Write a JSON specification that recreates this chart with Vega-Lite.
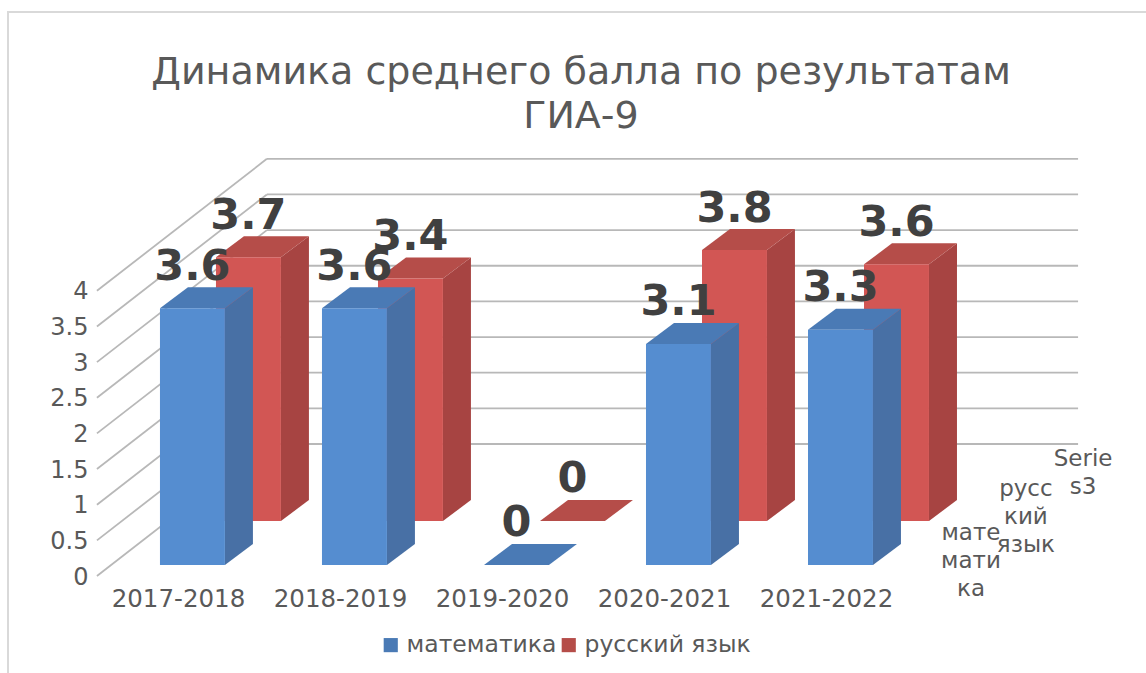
{
"$schema":"https://vega.github.io/schema/vega-lite/v6.json",
"width":1148,"height":680,
"autosize":{"type":"none"},
"padding":{"left":8,"top":12,"right":0,"bottom":0},
"background":"white",
"title":{"text":["Динамика среднего балла по результатам","ГИА-9"],"font":"DejaVu Sans","fontSize":38,"fontWeight":"normal","color":"#595959","lineHeight":44,"anchor":"middle","frame":"group","offset":-124,"dx":-1},
"config":{"view":{"stroke":"#d9d9d9","strokeWidth":2},"font":"DejaVu Sans"},
"datasets":{
"bars":[
{"year":"2017-2018","series":"математика","value":3.6},
{"year":"2018-2019","series":"математика","value":3.6},
{"year":"2019-2020","series":"математика","value":0},
{"year":"2020-2021","series":"математика","value":3.1},
{"year":"2021-2022","series":"математика","value":3.3},
{"year":"2017-2018","series":"русский язык","value":3.7},
{"year":"2018-2019","series":"русский язык","value":3.4},
{"year":"2019-2020","series":"русский язык","value":0},
{"year":"2020-2021","series":"русский язык","value":3.8},
{"year":"2021-2022","series":"русский язык","value":3.6}
],
"levels":[{"level":0},{"level":0.5},{"level":1},{"level":1.5},{"level":2},{"level":2.5},{"level":3},{"level":3.5},{"level":4}],
"depth":[{"series":"математика","wrapped":"мате\nмати\nка"},{"series":"русский язык","wrapped":"русс\nкий\nязык"},{"series":"Series3","wrapped":"Serie\ns3"}]
},
"encoding":{
"x":{"field":"X","type":"quantitative","title":null,"scale":{"domain":[-0.938,6.148],"nice":false,"zero":false},
"axis":{"values":[0,1,2,3,4],"labelExpr":"['2017-2018','2018-2019','2019-2020','2020-2021','2021-2022'][datum.value]","domain":false,"ticks":false,"grid":false,"offset":-105,"labelPadding":0,"labelOffset":18,"labelFontSize":24.5,"labelColor":"#595959","labelFont":"DejaVu Sans","labelBaseline":"top","labelAngle":0,"labelFlush":false,"labelOverlap":false}},
"y":{"field":"Y","type":"quantitative","title":null,"scale":{"domain":[-1.781,7.756],"nice":false,"zero":false},
"axis":{"values":[0,0.5,1,1.5,2,2.5,3,3.5,4],"format":".1~f","domain":false,"ticks":false,"grid":false,"offset":-80,"labelPadding":0,"labelOffset":12,"labelFontSize":24,"labelColor":"#595959","labelFont":"DejaVu Sans","labelOverlap":false,"labelFlush":false}}
},
"layer":[
{"data":{"name":"levels"},
 "transform":[{"calculate":"0.66","as":"X"},{"calculate":"5.667","as":"X2"},{"calculate":"datum.level+1.697","as":"Y"},{"calculate":"datum.level+1.697","as":"Y2"}],
 "mark":{"type":"rule","color":"#b8b8b8","strokeWidth":1.8},
 "encoding":{"x2":{"field":"X2"},"y2":{"field":"Y2"}}},
{"data":{"name":"levels"},
 "transform":[{"calculate":"-0.389","as":"X"},{"calculate":"0.66","as":"X2"},{"calculate":"datum.level-0.154","as":"Y"},{"calculate":"datum.level+1.697","as":"Y2"}],
 "mark":{"type":"rule","color":"#b8b8b8","strokeWidth":1.8},
 "encoding":{"x2":{"field":"X2"},"y2":{"field":"Y2"}}},
{"data":{"name":"depth"},
 "transform":[{"calculate":"indexof(['математика','русский язык','Series3'],datum.series)","as":"d"},{"calculate":"[5.006,5.345,5.698][datum.d]","as":"X"},{"calculate":"[0.449,1.066,1.487][datum.d]","as":"Y"}],
 "mark":{"type":"text","fontSize":23,"color":"#595959","align":"center","baseline":"middle","lineBreak":"\n","lineHeight":28},
 "encoding":{"text":{"field":"wrapped"}}},
{"data":{"name":"bars"},
 "transform":[
  {"filter":"datum.series==='русский язык'"},
  {"calculate":"indexof(['2017-2018','2018-2019','2019-2020','2020-2021','2021-2022'],datum.year)+0.3457+0.401","as":"right"},
  {"calculate":"[datum.right,datum.right+0.1728]","as":"X"},
  {"calculate":"[0.617,0.617+0.2945]","as":"Y"},
  {"calculate":"[0.617+datum.value,0.617+datum.value+0.2945]","as":"Y2"},
  {"flatten":["X","Y","Y2"]}],
 "mark":{"type":"area","orient":"vertical","color":"#a74442"},
 "encoding":{"y2":{"field":"Y2"},"detail":{"field":"year"}}},
{"data":{"name":"bars"},
 "transform":[
  {"filter":"datum.series==='русский язык'"},
  {"calculate":"indexof(['2017-2018','2018-2019','2019-2020','2020-2021','2021-2022'],datum.year)+0.3457","as":"left"},
  {"calculate":"0.617+datum.value","as":"top"},
  {"calculate":"[datum.left,datum.left+0.1728,datum.left+0.401,datum.left+0.5738]","as":"X"},
  {"calculate":"[datum.top,datum.top,datum.top,datum.top+0.2945]","as":"Y"},
  {"calculate":"[datum.top,datum.top+0.2945,datum.top+0.2945,datum.top+0.2945]","as":"Y2"},
  {"flatten":["X","Y","Y2"]}],
 "mark":{"type":"area","orient":"vertical"},
 "encoding":{"y2":{"field":"Y2"},"detail":{"field":"year"},
  "color":{"field":"series","type":"nominal","scale":{"domain":["математика","русский язык"],"range":["#4a7ab5","#b54d49"]},
   "legend":{"title":null,"orient":"none","legendX":371,"legendY":621,"direction":"horizontal","columns":2,"symbolType":"square","symbolSize":200,"symbolStrokeWidth":0,"labelFontSize":23.5,"labelColor":"#595959","labelFont":"DejaVu Sans","labelLimit":300,"columnPadding":-5,"labelOffset":4}}}},
{"data":{"name":"bars"},
 "transform":[
  {"filter":"datum.series==='русский язык'"},
  {"calculate":"indexof(['2017-2018','2018-2019','2019-2020','2020-2021','2021-2022'],datum.year)+0.3457","as":"X"},
  {"calculate":"datum.X+0.401","as":"X2"},{"calculate":"0.617","as":"Y"},{"calculate":"0.617+datum.value","as":"Y2"}],
 "mark":{"type":"rect","color":"#d25654"},
 "encoding":{"x2":{"field":"X2"},"y2":{"field":"Y2"}}},
{"data":{"name":"bars"},
 "transform":[
  {"filter":"datum.series==='математика'"},
  {"calculate":"indexof(['2017-2018','2018-2019','2019-2020','2020-2021','2021-2022'],datum.year)+0.401","as":"right"},
  {"calculate":"[datum.right,datum.right+0.1728]","as":"X"},
  {"calculate":"[0,0.2945]","as":"Y"},
  {"calculate":"[datum.value,datum.value+0.2945]","as":"Y2"},
  {"flatten":["X","Y","Y2"]}],
 "mark":{"type":"area","orient":"vertical","color":"#4870a5"},
 "encoding":{"y2":{"field":"Y2"},"detail":{"field":"year"}}},
{"data":{"name":"bars"},
 "transform":[
  {"filter":"datum.series==='математика'"},
  {"calculate":"indexof(['2017-2018','2018-2019','2019-2020','2020-2021','2021-2022'],datum.year)","as":"left"},
  {"calculate":"datum.value","as":"top"},
  {"calculate":"[datum.left,datum.left+0.1728,datum.left+0.401,datum.left+0.5738]","as":"X"},
  {"calculate":"[datum.top,datum.top,datum.top,datum.top+0.2945]","as":"Y"},
  {"calculate":"[datum.top,datum.top+0.2945,datum.top+0.2945,datum.top+0.2945]","as":"Y2"},
  {"flatten":["X","Y","Y2"]}],
 "mark":{"type":"area","orient":"vertical"},
 "encoding":{"y2":{"field":"Y2"},"detail":{"field":"year"},
  "color":{"field":"series","type":"nominal"}}},
{"data":{"name":"bars"},
 "transform":[
  {"filter":"datum.series==='математика'"},
  {"calculate":"indexof(['2017-2018','2018-2019','2019-2020','2020-2021','2021-2022'],datum.year)","as":"X"},
  {"calculate":"datum.X+0.401","as":"X2"},{"calculate":"0","as":"Y"},{"calculate":"datum.value","as":"Y2"}],
 "mark":{"type":"rect","color":"#558dd0"},
 "encoding":{"x2":{"field":"X2"},"y2":{"field":"Y2"}}},
{"data":{"name":"bars"},
 "transform":[
  {"calculate":"datum.series==='русский язык'?1:0","as":"d"},
  {"calculate":"indexof(['2017-2018','2018-2019','2019-2020','2020-2021','2021-2022'],datum.year)+datum.d*0.3457+0.2005","as":"X"},
  {"calculate":"datum.d*0.617+datum.value+0.4","as":"Y"}],
 "mark":{"type":"text","fontSize":43,"fontWeight":"bold","color":"#404040","align":"center","baseline":"alphabetic"},
 "encoding":{"text":{"field":"value","type":"quantitative","format":"~g"}}}
]
}
